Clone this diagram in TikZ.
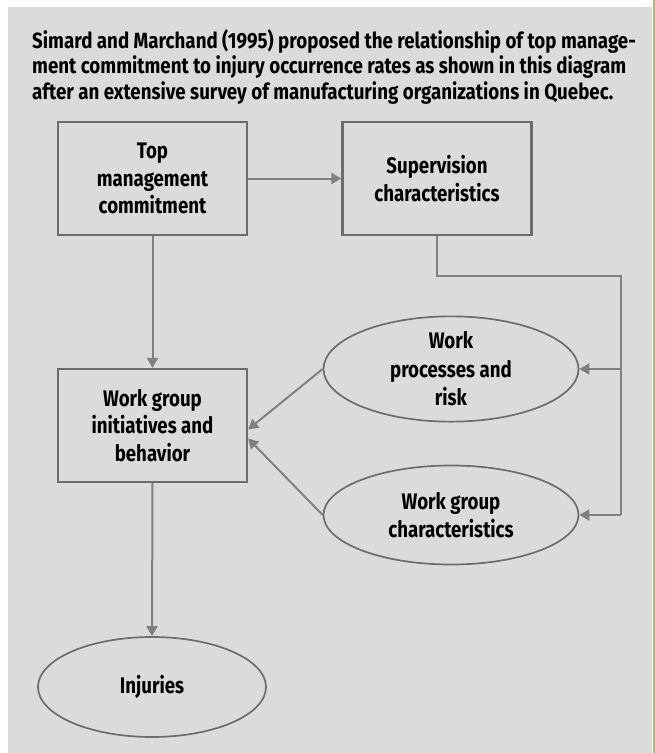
\documentclass[tikz,border=0pt]{standalone}
\usepackage{fontspec}
\usetikzlibrary{arrows.meta,shapes.geometric}
\newfontfamily\captionfont[FakeStretch=0.852]{Fira Sans}
\newfontfamily\labelfont[FakeStretch=0.83]{Fira Sans}
\definecolor{panel}{HTML}{DBDBDB}
\definecolor{edge}{HTML}{6C6C6C}
\definecolor{wire}{HTML}{808080}
\definecolor{rim}{HTML}{A9B67E}
\tikzset{
  stepbox/.style={draw=edge, line width=2.2pt, rectangle, inner sep=0pt,
    minimum width=189pt, minimum height=113pt, align=center,
    font=\labelfont\bfseries\fontsize{22.5}{27.5}\selectfont},
  oval/.style={draw=edge, line width=1.7pt, ellipse, inner sep=0pt,
    minimum width=255pt, minimum height=99pt, align=center,
    font=\labelfont\bfseries\fontsize{22.5}{28.5}\selectfont},
  link/.style={draw=wire, line width=2pt,
    -{Triangle[length=10pt,width=11pt]}},
  plain/.style={draw=wire, line width=2pt}
}
\begin{document}
\begin{tikzpicture}[x=1pt,y=-1pt]
  % page frame and grey panel
  \useasboundingbox (0,0) rectangle (655,753);
  \fill[white] (0,0) rectangle (655,753);
  \fill[panel] (8,7) rectangle (652,753);
  \fill[rim] (652.5,0) rectangle (655,753);

  % caption (anchored on its last baseline)
  \node[anchor=base west, align=left, inner sep=0pt,
        font=\captionfont\bfseries\fontsize{22}{25.5}\selectfont] (caption) at (32,99)
    {Simard and Marchand (1995) proposed the relationship of top manage-\\
     ment commitment to injury occurrence rates as shown in this diagram\\
     after an extensive survey of manufacturing organizations in Quebec.};

  % boxes and ovals
  \node[stepbox] (top) at (152.5,178.5) {Top\\management\\commitment};
  \node[stepbox] (sup) at (437,178.5) {Supervision\\characteristics};
  \node[stepbox] (wg)  at (152.5,425.5) {Work group\\initiatives and\\behavior};
  \node[oval] (proc) at (451,369) {Work\\processes and\\risk};
  \node[oval] (wgc)  at (451,515) {Work group\\characteristics};
  \node[oval, minimum width=228pt, minimum height=100pt] (inj) at (152,687) {Injuries};

  % routing points of the supervision feed
  \coordinate (s1) at (437,276);
  \coordinate (s2) at (621,276);
  \coordinate (s3) at (621,369);
  \coordinate (s4) at (621,515);

  % connectors
  \draw[link] (top.east) -- (sup.west);
  \draw[link] (top.south) -- (wg.north);
  \draw[plain] (sup.south) -- (s1) -- (s2) -- (s4);
  \draw[link] (s3) -- (proc.east);
  \draw[link] (s4) -- (wgc.east);
  \draw[link] (proc.west) -- ([yshift=-4pt]wg.east);
  \draw[link] (wgc.west) -- ([yshift=-13pt]wg.east);
  \draw[link] (wg.south) -- (inj.north);
\end{tikzpicture}
\end{document}
